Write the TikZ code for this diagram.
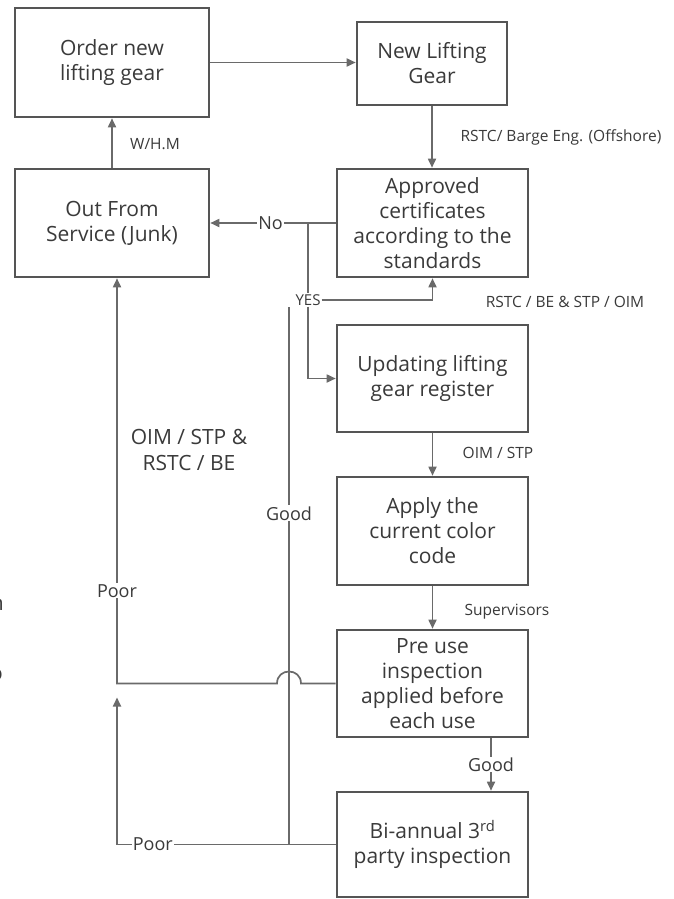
\documentclass[tikz,border=0pt]{standalone}
\usepackage{fontspec}
\setmainfont{Open Sans}
\usetikzlibrary{arrows.meta,calc}
\definecolor{boxc}{HTML}{555555}
\definecolor{linec}{HTML}{6A6A6A}
\definecolor{txtc}{HTML}{3A3A3A}
\begin{document}
\begin{tikzpicture}[x=1pt,y=-1pt,
  box/.style={draw=boxc, line width=2.6pt, inner sep=0pt, align=center, text=txtc, font=\fontsize{21}{25}\selectfont},
  conn/.style={draw=linec, line width=1.7pt},
  arr/.style={conn, -{Triangle[length=9pt,width=8pt]}},
  lbl/.style={text=txtc, font=\fontsize{15.5}{18}\selectfont, inner sep=1pt},
  mlbl/.style={text=txtc, font=\fontsize{18}{21}\selectfont, inner sep=1pt, fill=white},
  biglbl/.style={text=txtc, font=\fontsize{21}{26}\selectfont, align=center},
]
\useasboundingbox[fill=white] (0,0) rectangle (674,899);

% boxes
\node[box, minimum width=194pt, minimum height=109pt] (order) at (112,62.5) {Order new\\lifting gear};
\node[box, minimum width=150pt, minimum height=83pt] (newg) at (432,63.5) {New Lifting\\Gear};
\node[box, minimum width=194pt, minimum height=108pt] (outs) at (112,223) {Out From\\Service (Junk)};
\node[box, minimum width=191pt, minimum height=108pt] (appr) at (432.5,223) {Approved\\certificates\\according to the\\standards};
\node[box, minimum width=191pt, minimum height=107pt] (upd) at (432.5,378.5) {Updating lifting\\gear register};
\node[box, minimum width=191pt, minimum height=108pt] (apply) at (432.5,531) {Apply the\\current color\\code};
\node[box, minimum width=191pt, minimum height=107pt] (pre) at (432.5,683.5) {Pre use\\inspection\\applied before\\each use};
\node[box, minimum width=191pt, minimum height=105pt] (bi) at (432.5,844.5) {Bi-annual 3\textsuperscript{rd}\\party inspection};

% top connectors
\draw[arr] (order.east) -- (order.east -| newg.west);
\draw[arr] (newg.south) -- (newg.south |- appr.north);
\node[lbl] (lb1) at (561,137) {RSTC/ Barge Eng. (Offshore)};
\draw[arr] (outs.north) -- (order.south);
\node[lbl] (lb2) at (155,144) {W/H.M};
\draw[arr] (appr.west) -- node[mlbl, pos=0.52]{No} (outs.east);

% YES branch
\node[lbl, font=\fontsize{15}{18}\selectfont] (yes) at (308,300) {YES};
\coordinate (j1) at (yes |- appr.west);
\draw[conn] (j1) -- (yes.north);
\draw[arr] (yes.east) -| (appr.south);
\draw[arr] (yes.south) |- (upd.west);
\node[lbl] (lb3) at (565,302) {RSTC / BE \& STP / OIM};

% main column
\draw[arr] (upd.south) -- (apply.north);
\node[lbl] (lb4) at (498,453) {OIM / STP};
\draw[arr] (apply.south) -- (pre.north);
\node[lbl] (lb5) at (507,612) {Supervisors};
\draw[arr] ($(pre.south)+(58.5,0)$) -- node[mlbl]{Good} ($(bi.north)+(58.5,0)$);

% Good vertical line
\coordinate (gtop) at (289,307);
\coordinate (gbot) at (gtop |- bi.west);
\draw[conn] (gtop) -- node[mlbl, pos=0.384]{Good} (gbot);

% upper Poor loop with hop
\coordinate (hr) at ($(gtop |- pre.west)+(12,0)$);
\coordinate (hl) at ($(gtop |- pre.west)+(-12,0)$);
\coordinate (c1) at ($(outs.south |- pre.west)+(5,0)$);
\coordinate (t1) at ($(outs.south)+(5,0)$);
\draw[arr] (pre.west) -- (hr) .. controls ($(hr)+(0,-16)$) and ($(hl)+(0,-16)$) .. (hl) -- (c1) -- node[mlbl, pos=0.2285]{Poor} (t1);

% lower Poor
\coordinate (c2) at (c1 |- bi.west);
\coordinate (t2) at ($(c1)+(0,14)$);
\draw[arr] (bi.west) -- node[mlbl, pos=0.836]{Poor} (c2) -- (t2);

% side label
\node[biglbl] (lb6) at (189,450) {OIM / STP \&\\RSTC / BE};

% cut-off text fragments at left edge
\node[anchor=east, text=txtc, font=\fontsize{21}{25}\selectfont, inner sep=0pt] (frag1) at (4,605) {n};
\node[anchor=east, text=txtc, font=\fontsize{21}{25}\selectfont, inner sep=0pt] (frag2) at (3,675) {o};
\end{tikzpicture}
\end{document}
